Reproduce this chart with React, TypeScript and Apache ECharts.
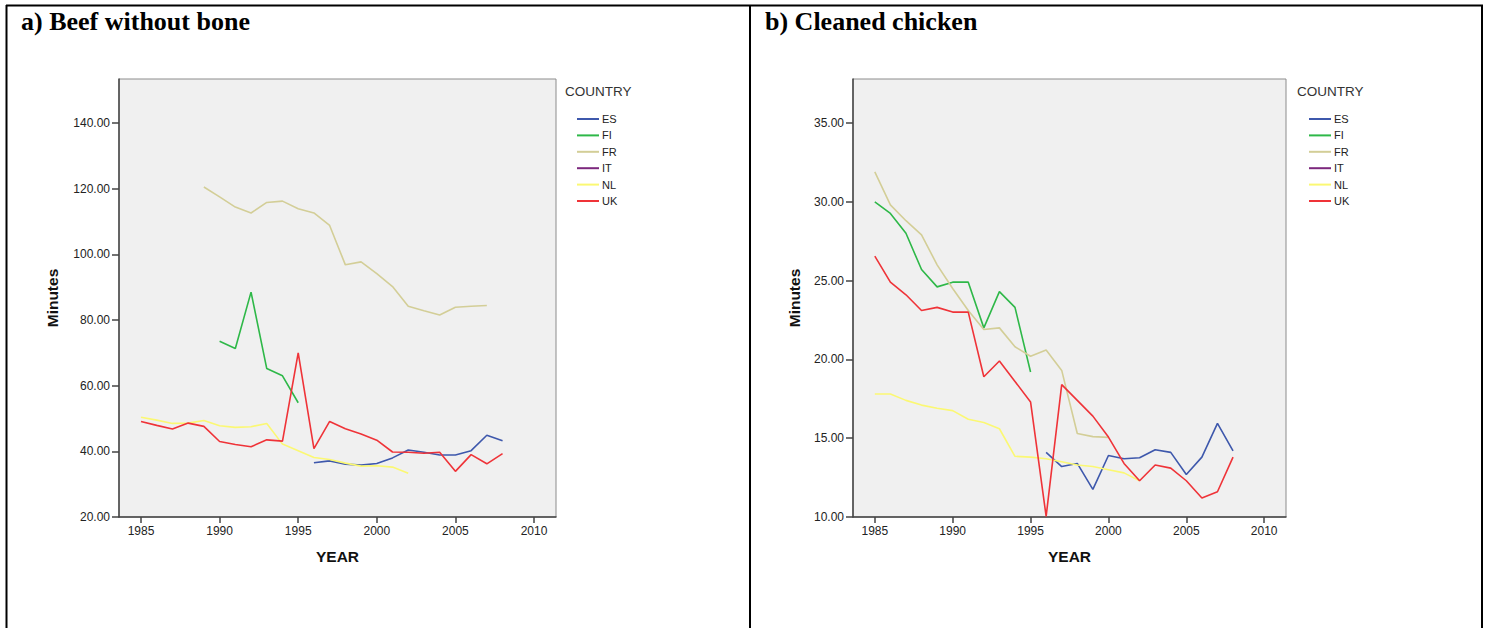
import React, { useEffect, useRef } from "react";
import * as echarts from "echarts";

// ---- Data ----
const countries = ["ES", "FI", "FR", "IT", "NL", "UK"];
const countryColors = ["#3E58AC", "#2EB848", "#D3CE97", "#7C287D", "#FBF873", "#EF3338"];

const yearTicks = [1985, 1990, 1995, 2000, 2005, 2010];
const beefTicks = [20, 40, 60, 80, 100, 120, 140];
const chickenTicks = [10, 15, 20, 25, 30, 35];

// a) Beef without bone
const beefES: [number, number][] = [
  [1996, 36.5], [1997, 37.1], [1998, 36.1], [1999, 35.8], [2000, 36.3], [2001, 38.0],
  [2002, 40.4], [2003, 39.7], [2004, 38.9], [2005, 38.9], [2006, 40.2], [2007, 44.9], [2008, 43.2],
];
const beefFI: [number, number][] = [
  [1990, 73.5], [1991, 71.3], [1992, 88.5], [1993, 65.2], [1994, 63.0], [1995, 54.8],
];
const beefFR: [number, number][] = [
  [1989, 120.5], [1990, 117.5], [1991, 114.4], [1992, 112.6], [1993, 115.8], [1994, 116.2],
  [1995, 113.9], [1996, 112.6], [1997, 108.8], [1998, 96.8], [1999, 97.7], [2000, 94.1],
  [2001, 90.2], [2002, 84.2], [2003, 82.8], [2004, 81.5], [2005, 83.9], [2006, 84.2], [2007, 84.4],
];
const beefIT: [number, number][] = [];
const beefNL: [number, number][] = [
  [1985, 50.4], [1986, 49.5], [1987, 48.5], [1988, 48.6], [1989, 49.4], [1990, 47.8],
  [1991, 47.3], [1992, 47.5], [1993, 48.5], [1994, 42.2], [1995, 40.2], [1996, 38.1],
  [1997, 37.5], [1998, 36.4], [1999, 35.5], [2000, 35.6], [2001, 35.2], [2002, 33.3],
];
const beefUK: [number, number][] = [
  [1985, 49.1], [1986, 47.9], [1987, 46.8], [1988, 48.6], [1989, 47.6], [1990, 43.0],
  [1991, 42.1], [1992, 41.4], [1993, 43.5], [1994, 43.1], [1995, 70.0], [1996, 40.8],
  [1997, 49.1], [1998, 46.9], [1999, 45.3], [2000, 43.4], [2001, 39.8], [2002, 39.7],
  [2003, 39.4], [2004, 39.7], [2005, 33.9], [2006, 39.0], [2007, 36.2], [2008, 39.3],
];

// b) Cleaned chicken
const chickenES: [number, number][] = [
  [1996, 14.1], [1997, 13.2], [1998, 13.4], [1999, 11.75], [2000, 13.9], [2001, 13.7],
  [2002, 13.76], [2003, 14.27], [2004, 14.1], [2005, 12.7], [2006, 13.8], [2007, 15.94], [2008, 14.2],
];
const chickenFI: [number, number][] = [
  [1985, 30.0], [1986, 29.26], [1987, 28.0], [1988, 25.7], [1989, 24.6], [1990, 24.9],
  [1991, 24.9], [1992, 22.0], [1993, 24.3], [1994, 23.3], [1995, 19.2],
];
const chickenFR: [number, number][] = [
  [1985, 31.9], [1986, 29.8], [1987, 28.8], [1988, 27.9], [1989, 26.0], [1990, 24.5],
  [1991, 23.1], [1992, 21.9], [1993, 22.0], [1994, 20.8], [1995, 20.2], [1996, 20.6],
  [1997, 19.3], [1998, 15.3], [1999, 15.1], [2000, 15.05],
];
const chickenIT: [number, number][] = [];
const chickenNL: [number, number][] = [
  [1985, 17.8], [1986, 17.8], [1987, 17.4], [1988, 17.1], [1989, 16.9], [1990, 16.75],
  [1991, 16.2], [1992, 16.0], [1993, 15.6], [1994, 13.85], [1995, 13.8], [1996, 13.7],
  [1997, 13.5], [1998, 13.3], [1999, 13.2], [2000, 13.0], [2001, 12.8], [2002, 12.3],
];
const chickenUK: [number, number][] = [
  [1985, 26.55], [1986, 24.9], [1987, 24.1], [1988, 23.1], [1989, 23.3], [1990, 23.0],
  [1991, 23.0], [1992, 18.9], [1993, 19.9], [1994, 18.6], [1995, 17.3], [1996, 10.04],
  [1997, 18.4], [1998, 17.4], [1999, 16.4], [2000, 15.07], [2001, 13.4], [2002, 12.3],
  [2003, 13.3], [2004, 13.1], [2005, 12.3], [2006, 11.2], [2007, 11.6], [2008, 13.8],
];

const beefData = [beefES, beefFI, beefFR, beefIT, beefNL, beefUK];
const chickenData = [chickenES, chickenFI, chickenFR, chickenIT, chickenNL, chickenUK];

const SANS = "'Liberation Sans', Arial, sans-serif";
const SERIF = "'Liberation Serif', 'Times New Roman', serif";

function makeXAxis(gridIndex: number) {
  return {
    type: "value",
    gridIndex,
    min: 1983.6,
    max: 2011.4,
    name: "YEAR",
    nameLocation: "middle",
    nameGap: 31,
    nameTextStyle: { fontFamily: SANS, fontSize: 15.5, fontWeight: "bold", color: "#111" },
    axisLine: { show: true, onZero: false, lineStyle: { color: "#444", width: 1.5 } },
    axisTick: { show: true, length: 6, customValues: yearTicks, lineStyle: { color: "#444", width: 1.5 } },
    axisLabel: {
      customValues: yearTicks,
      margin: 8,
      fontFamily: SANS,
      fontSize: 12,
      color: "#222",
      formatter: (v: number) => String(v),
    },
    splitLine: { show: false },
  };
}

function makeYAxis(gridIndex: number, min: number, max: number, ticks: number[], nameGap: number) {
  return {
    type: "value",
    gridIndex,
    min,
    max,
    name: "Minutes",
    nameLocation: "middle",
    nameGap,
    nameTextStyle: { fontFamily: SANS, fontSize: 15.5, fontWeight: "bold", color: "#111" },
    axisLine: { show: true, onZero: false, lineStyle: { color: "#444", width: 1.5 } },
    axisTick: { show: true, length: 7, customValues: ticks, lineStyle: { color: "#444", width: 1.5 } },
    axisLabel: {
      customValues: ticks,
      margin: 9,
      fontFamily: SANS,
      fontSize: 12,
      color: "#222",
      formatter: (v: number) => v.toFixed(2),
    },
    splitLine: { show: false },
  };
}

function makeLegend(left: number) {
  return {
    data: countries,
    orient: "vertical",
    left,
    top: 111,
    icon: "rect",
    itemWidth: 22,
    itemHeight: 2,
    itemGap: 0.4,
    padding: 0,
    selectedMode: false,
    textStyle: { fontFamily: SANS, fontSize: 11, lineHeight: 16, color: "#222", padding: [0, 0, 0, -2] },
  };
}

export default function App() {
  const ref = useRef<HTMLDivElement>(null);

  useEffect(() => {
    document.body.style.margin = "0";
    if (!ref.current) return;
    const chart = echarts.init(ref.current, undefined, { renderer: "svg" });

    const series: any[] = [];
    countries.forEach((c, i) => {
      series.push({
        type: "line",
        name: c,
        xAxisIndex: 0,
        yAxisIndex: 0,
        data: beefData[i],
        symbol: "none",
        color: countryColors[i],
        lineStyle: { width: 1.6, color: countryColors[i] },
      });
      series.push({
        type: "line",
        name: c,
        xAxisIndex: 1,
        yAxisIndex: 1,
        data: chickenData[i],
        symbol: "none",
        color: countryColors[i],
        lineStyle: { width: 1.6, color: countryColors[i] },
      });
    });

    const borderStyle = { stroke: "#000", lineWidth: 2 };

    chart.setOption({
      animation: false,
      backgroundColor: "#fff",
      grid: [
        { left: 119, top: 79, width: 437, height: 438, show: true, backgroundColor: "#F0F0F0", borderColor: "#8c8c8c", borderWidth: 1 },
        { left: 853, top: 79, width: 433, height: 438, show: true, backgroundColor: "#F0F0F0", borderColor: "#8c8c8c", borderWidth: 1 },
      ],
      xAxis: [makeXAxis(0), makeXAxis(1)],
      yAxis: [makeYAxis(0, 20, 153.4, beefTicks, 59), makeYAxis(1, 10, 37.79, chickenTicks, 51)],
      legend: [makeLegend(577), makeLegend(1309)],
      series,
      graphic: [
        { type: "line", shape: { x1: 6, y1: 5.5, x2: 1483, y2: 5.5 }, style: borderStyle },
        { type: "line", shape: { x1: 6.5, y1: 5, x2: 6.5, y2: 628 }, style: borderStyle },
        { type: "line", shape: { x1: 750, y1: 5, x2: 750, y2: 628 }, style: borderStyle },
        { type: "line", shape: { x1: 1482, y1: 5, x2: 1482, y2: 628 }, style: borderStyle },
        {
          type: "text",
          left: 21,
          top: 8,
          style: { text: "a) Beef without bone", font: `bold 26px ${SERIF}`, fill: "#000" },
        },
        {
          type: "text",
          left: 765,
          top: 8,
          style: { text: "b) Cleaned chicken", font: `bold 26px ${SERIF}`, fill: "#000" },
        },
        {
          type: "text",
          left: 565,
          top: 84,
          style: { text: "COUNTRY", font: `13.5px ${SANS}`, fill: "#333" },
        },
        {
          type: "text",
          left: 1297,
          top: 84,
          style: { text: "COUNTRY", font: `13.5px ${SANS}`, fill: "#333" },
        },
      ],
    });

    return () => chart.dispose();
  }, []);

  return <div ref={ref} style={{ width: 1489, height: 628 }} />;
}
